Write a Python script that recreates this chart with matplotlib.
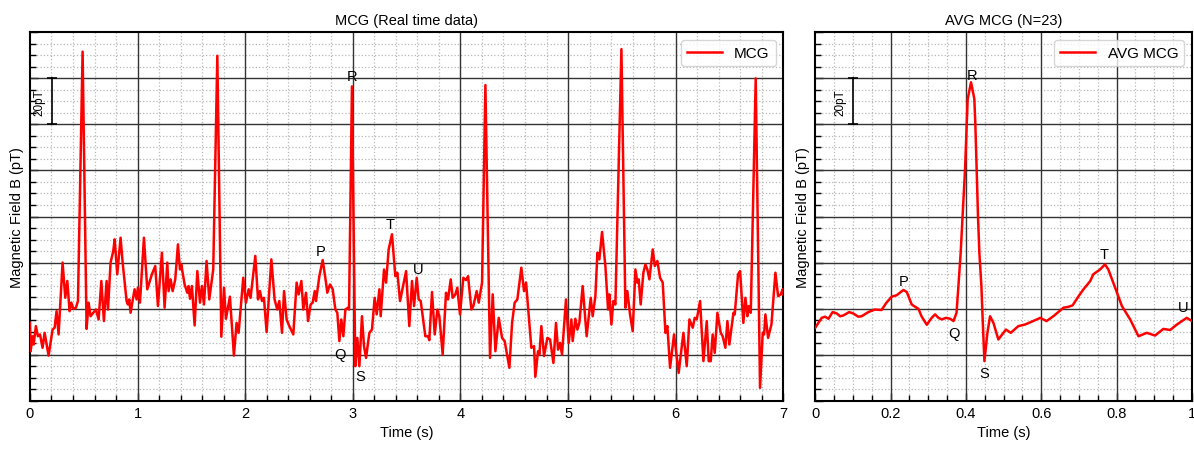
import matplotlib.pyplot as plt
from matplotlib.ticker import MultipleLocator, FixedLocator, FuncFormatter

plt.rcParams['font.family'] = ['Liberation Sans', 'DejaVu Sans']

# real time trace (time in s, field in pT)
mcg_t = [0.000, 0.006, 0.024, 0.034, 0.055, 0.074, 0.093, 0.117, 0.136, 0.173,
         0.210, 0.229, 0.247, 0.266, 0.303, 0.328, 0.347, 0.368, 0.384, 0.402,
         0.427, 0.446, 0.489, 0.526, 0.545, 0.563, 0.588, 0.613, 0.638, 0.663,
         0.687, 0.712, 0.725, 0.749, 0.774, 0.787, 0.811, 0.842, 0.861, 0.898,
         0.910, 0.923, 0.935, 0.972, 0.991, 1.003, 1.022, 1.059, 1.090, 1.133,
         1.164, 1.189, 1.226, 1.251, 1.276, 1.288, 1.307, 1.326, 1.350, 1.375,
         1.394, 1.406, 1.437, 1.462, 1.474, 1.487, 1.505, 1.530, 1.555, 1.580,
         1.598, 1.617, 1.641, 1.666, 1.691, 1.703, 1.741, 1.778, 1.803, 1.821,
         1.858, 1.895, 1.920, 1.939, 1.982, 2.007, 2.032, 2.050, 2.094, 2.119,
         2.137, 2.156, 2.174, 2.199, 2.243, 2.273, 2.298, 2.317, 2.342, 2.361,
         2.385, 2.410, 2.447, 2.478, 2.497, 2.522, 2.540, 2.565, 2.584, 2.608,
         2.627, 2.646, 2.658, 2.689, 2.720, 2.751, 2.763, 2.788, 2.813, 2.838,
         2.856, 2.875, 2.893, 2.912, 2.931, 2.955, 2.965, 2.992, 3.023, 3.042,
         3.061, 3.085, 3.104, 3.123, 3.154, 3.178, 3.203, 3.222, 3.247, 3.259,
         3.290, 3.309, 3.333, 3.364, 3.395, 3.414, 3.439, 3.495, 3.525, 3.550,
         3.569, 3.594, 3.612, 3.631, 3.674, 3.699, 3.711, 3.736, 3.761, 3.786,
         3.804, 3.835, 3.866, 3.885, 3.910, 3.928, 3.953, 3.971, 3.996, 4.027,
         4.052, 4.071, 4.102, 4.120, 4.151, 4.170, 4.201, 4.232, 4.275, 4.300,
         4.325, 4.356, 4.387, 4.411, 4.455, 4.480, 4.504, 4.529, 4.566, 4.591,
         4.610, 4.659, 4.684, 4.696, 4.721, 4.734, 4.752, 4.777, 4.808, 4.833,
         4.864, 4.888, 4.907, 4.926, 4.944, 4.981, 5.006, 5.031, 5.043, 5.068,
         5.087, 5.105, 5.136, 5.161, 5.173, 5.211, 5.229, 5.254, 5.273, 5.291,
         5.316, 5.347, 5.372, 5.384, 5.403, 5.421, 5.440, 5.496, 5.533, 5.551,
         5.576, 5.601, 5.626, 5.644, 5.657, 5.675, 5.700, 5.719, 5.737, 5.756,
         5.787, 5.806, 5.830, 5.855, 5.880, 5.905, 5.923, 5.948, 5.985, 6.028,
         6.072, 6.103, 6.128, 6.159, 6.177, 6.196, 6.227, 6.258, 6.289, 6.307,
         6.326, 6.344, 6.363, 6.388, 6.419, 6.437, 6.462, 6.481, 6.499, 6.537,
         6.549, 6.580, 6.599, 6.629, 6.648, 6.667, 6.679, 6.698, 6.744, 6.784,
         6.809, 6.822, 6.834, 6.859, 6.890, 6.927, 6.952, 6.976, 6.995, 7.000]
mcg_b = [-6.2, -18.5, -12.0, -15.6, -7.6, -12.0, -11.2, -17.0, -10.5, -20.4,
         -9.1, -8.3, -1.1, -11.2, 20.0, 4.7, 12.0, -1.1, 2.6, 0.0,
         0.4, 3.3, 111.6, -8.8, 2.6, -3.3, -1.8, -0.4, -4.7, 12.0,
         -5.4, 12.0, -0.4, 20.0, 25.0, 30.1, 14.9, 30.8, 20.0, 3.3,
         1.8, 4.0, -1.8, 8.4, 4.0, 9.1, 2.6, 30.8, 8.4, 14.9,
         18.5, 1.1, 24.3, 0.4, 20.0, 7.6, 12.7, 7.6, 12.7, 27.9,
         17.0, 19.2, 10.5, 6.9, 9.8, 4.3, 9.8, -7.3, 16.3, 2.6,
         9.8, 1.8, 20.7, 4.0, 12.7, 17.0, 109.8, -12.2, 9.1, -4.4,
         5.2, -20.4, -6.2, -10.5, 13.4, 2.6, 8.4, 4.7, 22.9, 4.0,
         7.6, 3.3, 4.7, -10.2, 21.4, 4.0, -0.4, 3.3, -10.5, 7.6,
         -4.7, -7.6, -11.2, 11.3, 6.2, 12.0, -0.4, 6.9, -5.4, 1.8,
         2.6, 7.6, 3.3, 14.1, 21.1, 11.3, 6.9, 10.5, 8.4, -0.4,
         -1.8, -14.1, -4.7, -12.0, -0.4, 0.4, -0.4, 96.5, -25.0, -12.7,
         -25.0, -3.3, -16.3, -21.4, -10.5, -9.1, 4.7, -2.5, 8.4, -3.3,
         17.0, 11.3, 25.7, 32.3, 14.1, 15.6, 3.3, 16.3, -7.6, 12.0,
         1.1, 13.4, 4.0, 3.3, -12.0, -12.0, -13.7, 7.2, -11.2, -0.4,
         -3.3, -19.9, 6.9, 4.0, 12.7, 4.7, 6.2, 9.1, -2.5, 13.4,
         12.4, 14.1, -0.4, 1.1, 7.6, 2.6, 11.3, 97.1, -21.4, 6.2,
         -18.5, -4.0, -12.7, -14.1, -25.7, -6.2, 2.6, 4.0, 17.8, 7.6,
         11.3, -17.0, -16.3, -29.6, -18.5, -19.9, -7.6, -20.6, -12.7, -13.4,
         -23.6, -6.2, -17.8, -14.9, -19.9, 4.0, -14.9, -4.7, -14.1, -4.4,
         -9.1, -6.2, 9.8, -4.7, -12.0, 4.7, -3.3, 5.4, 24.3, 21.4,
         33.3, 18.5, -0.4, 6.2, -6.9, 3.3, 1.8, 112.7, 0.4, 7.6,
         -2.5, -9.8, 17.0, 11.3, 12.7, 1.8, 15.6, 19.2, 17.0, 12.7,
         25.7, 18.5, 20.7, 13.4, 11.3, -10.5, -7.6, -25.7, -11.2, -27.9,
         -10.5, -25.0, -4.7, -8.3, -4.0, -4.7, 3.3, -22.8, -5.4, -22.8,
         -22.8, -11.2, -19.2, -1.8, -10.5, -12.0, -17.0, -5.4, -15.6, -1.8,
         -2.5, 14.9, 16.3, -6.2, 4.7, -3.3, 1.1, -1.8, 100.0, -34.4,
         -10.5, -11.2, -2.5, -12.7, -6.9, 15.6, 5.4, 6.2, 8.4, 6.2]

# averaged beat
avg_t = [0.000, 0.017, 0.026, 0.035, 0.046, 0.057, 0.066, 0.074, 0.090, 0.101,
         0.114, 0.123, 0.141, 0.158, 0.176, 0.189, 0.203, 0.216, 0.234, 0.243,
         0.256, 0.265, 0.274, 0.282, 0.296, 0.309, 0.318, 0.327, 0.336, 0.347,
         0.358, 0.367, 0.375, 0.380, 0.386, 0.391, 0.3975, 0.402, 0.4046, 0.4135,
         0.4223, 0.425, 0.4285, 0.432, 0.4356, 0.441, 0.4444, 0.449, 0.457, 0.464,
         0.473, 0.486, 0.506, 0.519, 0.539, 0.557, 0.588, 0.597, 0.614, 0.632,
         0.659, 0.672, 0.683, 0.699, 0.712, 0.730, 0.738, 0.756, 0.769, 0.778,
         0.796, 0.814, 0.836, 0.858, 0.880, 0.902, 0.924, 0.942, 0.960, 0.986,
         1.000]
avg_b = [-8.3, -4.0, -3.5, -4.4, -1.5, -2.1, -3.3, -3.0, -1.5, -2.1,
         -3.5, -3.3, -1.5, -0.4, -0.6, 2.6, 5.2, 5.8, 8.1, 7.2,
         1.8, 0.8, -0.1, -3.3, -7.0, -4.0, -2.5, -4.0, -4.7, -4.0,
         -4.4, -5.4, -1.8, 9.8, 24.3, 40.0, 60.0, 79.8, 91.0, 98.3,
         91.0, 79.8, 60.0, 40.0, 24.3, 9.8, -4.7, -22.8, -10.5, -3.3,
         -6.2, -13.4, -9.1, -10.5, -7.6, -6.9, -4.7, -4.0, -5.4, -3.3,
         0.4, 0.8, 1.4, 5.4, 8.4, 12.0, 14.9, 17.0, 19.2, 17.0,
         9.1, 1.1, -4.7, -12.0, -10.5, -11.7, -8.8, -9.3, -6.9, -4.0,
         -5.4]

wave_names = ['P', 'Q', 'R', 'S', 'T', 'U']
mcg_wave_t = [2.70, 2.88, 2.99, 3.07, 3.35, 3.61]
mcg_wave_b = [24.9, -19.9, 101.0, -29.4, 36.8, 17.2]
avg_wave_t = [0.234, 0.368, 0.415, 0.449, 0.768, 0.977]
avg_wave_b = [12.0, -10.4, 101.4, -27.8, 23.6, 0.5]


def minor_locs(step, count, skip, start=0):
    # minor positions that do not sit on a major line
    return [round(start + i * step, 4) for i in range(count + 1) if i % skip]


def style_axes(ax, xmax, xmajor, xminor, nsub):
    ax.set_xlim(0, xmax)
    ax.set_ylim(-40, 120)
    ax.xaxis.set_major_locator(MultipleLocator(xmajor))
    ax.xaxis.set_minor_locator(FixedLocator(minor_locs(xminor, round(xmax / xminor), nsub)))
    ax.yaxis.set_major_locator(MultipleLocator(20))
    ax.yaxis.set_minor_locator(FixedLocator(minor_locs(5, 32, 4, -40)))
    ax.xaxis.set_major_formatter(FuncFormatter(lambda v, p: f'{v:g}'))
    # dotted minor grid below, solid major grid drawn on top of it
    ax.grid(which='minor', color='0.72', ls=':', lw=0.9)
    for x in ax.get_xticks():
        if 0 < x < xmax:
            ax.axvline(x, color='0.2', lw=1.0, zorder=1.6)
    for y in ax.get_yticks():
        if -40 < y < 120:
            ax.axhline(y, color='0.2', lw=1.0, zorder=1.6)
    ax.tick_params(which='both', direction='in', labelleft=False, labelsize=10.5, width=1.0)
    ax.tick_params(which='major', length=6)
    ax.tick_params(which='minor', length=4)
    for s in ax.spines.values():
        s.set_linewidth(1.5)
    ax.set_xlabel('Time (s)', fontsize=10.5)
    ax.set_ylabel('Magnetic Field B (pT)', fontsize=10.5, labelpad=4)


fig = plt.figure(figsize=(11.94, 4.52), dpi=100)
ax1 = fig.add_axes([0.0251, 0.1112, 0.6309, 0.8151])
ax2 = fig.add_axes([0.6828, 0.1112, 0.3155, 0.8151])

style_axes(ax1, 7, 1, 0.2, 5)
ax1.plot(mcg_t, mcg_b, color='red', lw=1.8, label='MCG', zorder=3)
ax1.set_title('MCG (Real time data)', fontsize=10.5)
for name, x, y in zip(wave_names, mcg_wave_t, mcg_wave_b):
    ax1.text(x, y, name, ha='center', va='center', fontsize=10.5)
ax1.plot([0.204, 0.204], [80, 100], color='black', lw=1.2, marker='_', ms=7, mew=1.2)
ax1.text(0.085, 90, '20pT', rotation=90, ha='center', va='center', fontsize=8.5)
ax1.legend(loc='upper right', fontsize=11, handlelength=2.3)

style_axes(ax2, 1, 0.2, 0.05, 4)
ax2.plot(avg_t, avg_b, color='red', lw=1.8, label='AVG MCG', zorder=3)
ax2.set_title('AVG MCG (N=23)', fontsize=10.5)
for name, x, y in zip(wave_names, avg_wave_t, avg_wave_b):
    ax2.text(x, y, name, ha='center', va='center', fontsize=10.5)
ax2.plot([0.1, 0.1], [80, 100], color='black', lw=1.2, marker='_', ms=7, mew=1.2)
ax2.text(0.068, 90, '20pT', rotation=90, ha='center', va='center', fontsize=8.5)
ax2.legend(loc='upper right', fontsize=11, handlelength=2.3)

fig.savefig('out.png', dpi=100)
